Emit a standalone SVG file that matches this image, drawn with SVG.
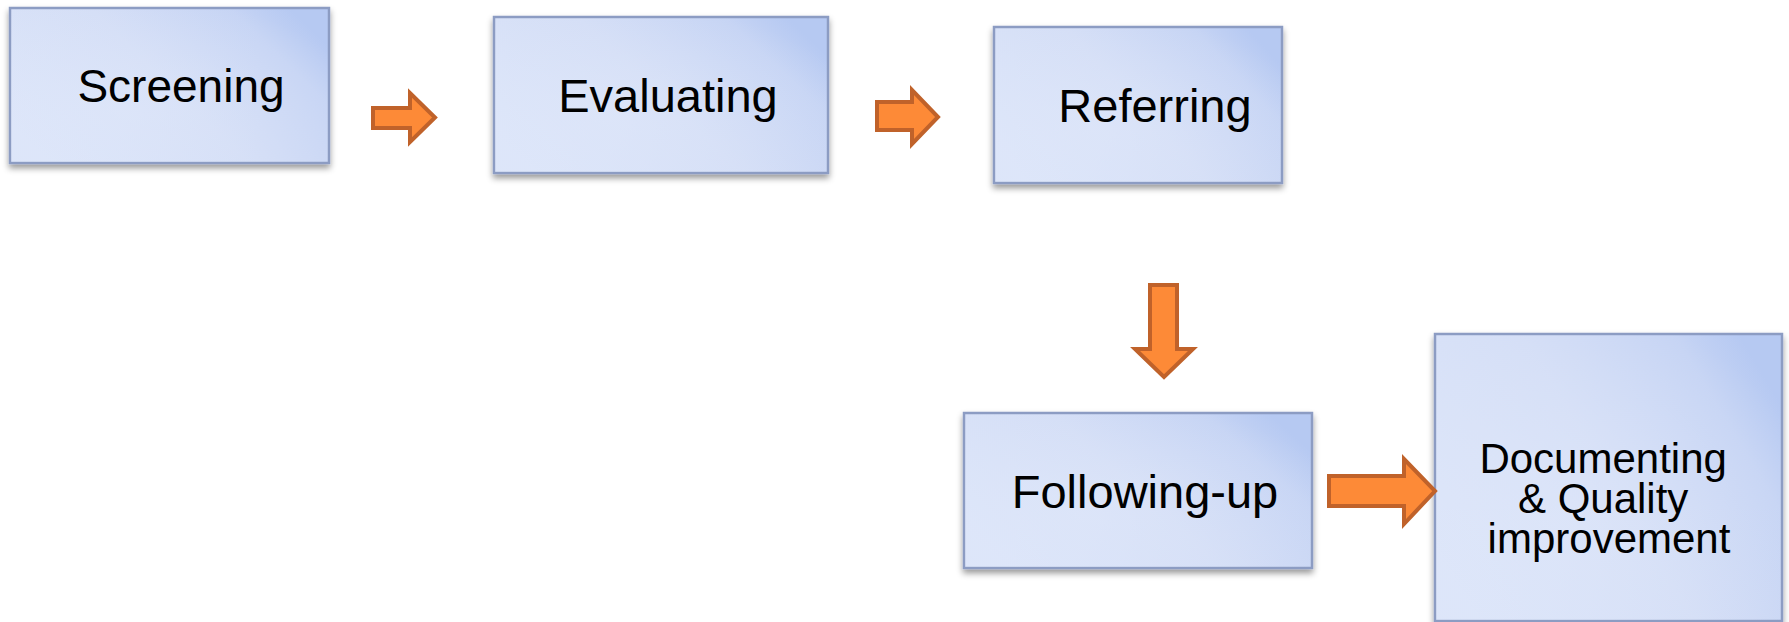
<svg xmlns="http://www.w3.org/2000/svg" width="1789" height="622" viewBox="0 0 1789 622">
  <defs>
    <!-- box fill: pale on the left, deeper blue towards the right edge -->
    <linearGradient id="boxFill" x1="0" y1="0.75" x2="1" y2="0.25">
      <stop offset="0" stop-color="#DCE5F9"/>
      <stop offset="0.5" stop-color="#D4DEF6"/>
      <stop offset="0.85" stop-color="#C6D4F4"/>
      <stop offset="1" stop-color="#B6C9F2"/>
    </linearGradient>
    <radialGradient id="boxGlow" cx="0.35" cy="0.65" r="0.75">
      <stop offset="0" stop-color="#E0E8FA" stop-opacity="0.55"/>
      <stop offset="1" stop-color="#E0E8FA" stop-opacity="0"/>
    </radialGradient>
    <filter id="shadow" x="-5%" y="-5%" width="110%" height="120%">
      <feDropShadow dx="0" dy="4" stdDeviation="3" flood-color="#000" flood-opacity="0.4"/>
    </filter>
  </defs>
  <style>
    .box { fill: url(#boxFill); stroke: #8C9CC3; stroke-width: 2.5; filter: url(#shadow); }
    .glow { fill: url(#boxGlow); stroke: none; }
    .label { font-family: "Liberation Sans", Arial, sans-serif; fill: #000; text-anchor: middle; }
    .arrow { fill: #FD8A37; stroke: #C0622A; stroke-width: 4; stroke-linejoin: miter; }
  </style>
  <rect width="1789" height="622" fill="#FFFFFF"/>

  <g id="screening">
    <rect class="box" x="10" y="8" width="319" height="155"/>
    <rect class="glow" x="11" y="9" width="317" height="153"/>
    <text class="label" x="181" y="102" font-size="46">Screening</text>
  </g>

  <g id="evaluating">
    <rect class="box" x="494" y="17" width="334" height="156"/>
    <rect class="glow" x="495" y="18" width="332" height="154"/>
    <text class="label" x="668" y="112" font-size="47">Evaluating</text>
  </g>

  <g id="referring">
    <rect class="box" x="994" y="27" width="288" height="156"/>
    <rect class="glow" x="995" y="28" width="286" height="154"/>
    <text class="label" x="1155" y="122" font-size="47">Referring</text>
  </g>

  <g id="following-up">
    <rect class="box" x="964" y="413" width="348" height="155"/>
    <rect class="glow" x="965" y="414" width="346" height="153"/>
    <text class="label" x="1145" y="508" font-size="47">Following-up</text>
  </g>

  <g id="documenting">
    <rect class="box" x="1435" y="334" width="347" height="287"/>
    <rect class="glow" x="1436" y="335" width="345" height="285"/>
    <text class="label" font-size="42">
      <tspan x="1609" y="473">Documenting</tspan>
      <tspan x="1609" y="513">&amp; Quality</tspan>
      <tspan x="1609" y="553">improvement</tspan>
    </text>
  </g>

  <g id="connectors">
    <path class="arrow" d="M373,108 H410 V93 L435,117.5 L410,142 V128 H373 Z"/>
    <path class="arrow" d="M877,102 H912 V90 L938,117 L912,144 V130 H877 Z"/>
    <path class="arrow" d="M1150,285 H1177 V349 H1193 L1164,377 L1135,349 H1150 Z"/>
    <path class="arrow" d="M1329,476 H1404 V459 L1435,491 L1404,524 V506 H1329 Z"/>
  </g>
</svg>
